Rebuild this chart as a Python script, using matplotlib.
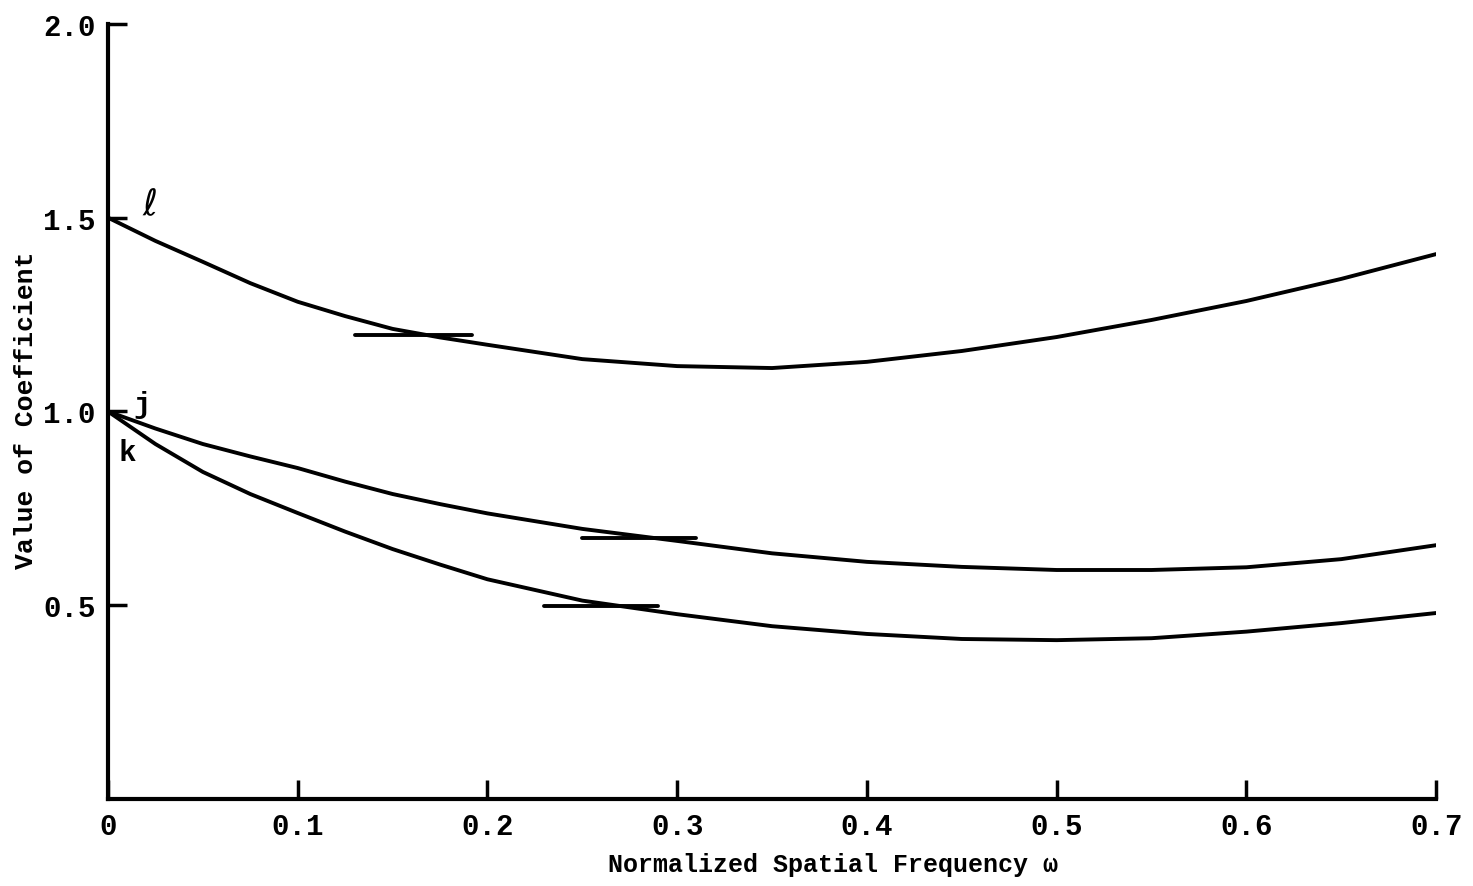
import numpy as np
import matplotlib.pyplot as plt

# valeurs
omega = [0.0, 0.025, 0.05, 0.075, 0.1, 0.125, 0.15, 0.175, 0.2, 0.25, 0.3, 0.35,
         0.4, 0.45, 0.5, 0.55, 0.6, 0.65, 0.7]
coef_l = [1.50, 1.440, 1.386, 1.331, 1.283, 1.246, 1.213, 1.191, 1.172, 1.135, 1.117, 1.112,
          1.128, 1.156, 1.192, 1.236, 1.285, 1.342, 1.406]
coef_j = [1.00, 0.956, 0.916, 0.884, 0.854, 0.819, 0.787, 0.761, 0.737, 0.697, 0.666, 0.634,
          0.612, 0.599, 0.591, 0.591, 0.598, 0.619, 0.655]
coef_k = [1.00, 0.916, 0.844, 0.787, 0.738, 0.690, 0.645, 0.605, 0.567, 0.512, 0.477, 0.446,
          0.426, 0.413, 0.410, 0.415, 0.432, 0.454, 0.480]

# petits traits horizontaux (x debut, x fin, y)
traits = [(0.130, 0.192, 1.197), (0.250, 0.310, 0.674), (0.230, 0.290, 0.498)]

xticks = [0, 0.1, 0.2, 0.3, 0.4, 0.5, 0.6, 0.7]
xlabels = ['0', '0.1', '0.2', '0.3', '0.4', '0.5', '0.6', '0.7']
yticks = [0.5, 1.0, 1.5, 2.0]
ylabels = ['0.5', '1.0', '1.5', '2.0']

police = 'Liberation Mono'

fig = plt.figure(figsize=(14.73, 8.87), dpi=100)
ax = fig.add_axes([0.0733, 0.098, 0.9017, 0.874])

for courbe in (coef_l, coef_j, coef_k):
    ax.plot(omega, courbe, color='black', lw=2.8, solid_joinstyle='round', solid_capstyle='round')
for x0, x1, y in traits:
    ax.plot([x0, x1], [y, y], color='black', lw=2.8, solid_capstyle='round')

ax.text(0.022, 1.535, r'$\ell$', fontsize=26, ha='center', va='center')
ax.text(0.018, 1.02, 'j', fontsize=21, family=police, weight='bold', ha='center', va='center')
ax.text(0.010, 0.895, 'k', fontsize=21, family=police, weight='bold', ha='center', va='center')

ax.set_xlim(0, 0.7)
ax.set_ylim(0, 2.0)
ax.spines['top'].set_visible(False)
ax.spines['right'].set_visible(False)
ax.spines['left'].set_linewidth(3)
ax.spines['bottom'].set_linewidth(3)

ax.set_xticks(xticks)
ax.set_xticklabels(xlabels, family=police, weight='bold', fontsize=21)
ax.set_yticks(yticks)
ax.set_yticklabels(ylabels, family=police, weight='bold', fontsize=21)
ax.tick_params(axis='both', direction='in', length=14, width=2.5, pad=9)

ax.set_xlabel('Normalized Spatial Frequency ω', family=police, weight='bold', fontsize=18)
ax.xaxis.set_label_coords(0.546, -0.068)
ax.set_ylabel('Value of Coefficient', family=police, weight='bold', fontsize=19)
ax.yaxis.set_label_coords(-0.053, 0.503)

fig.savefig('out.png', dpi=100)
